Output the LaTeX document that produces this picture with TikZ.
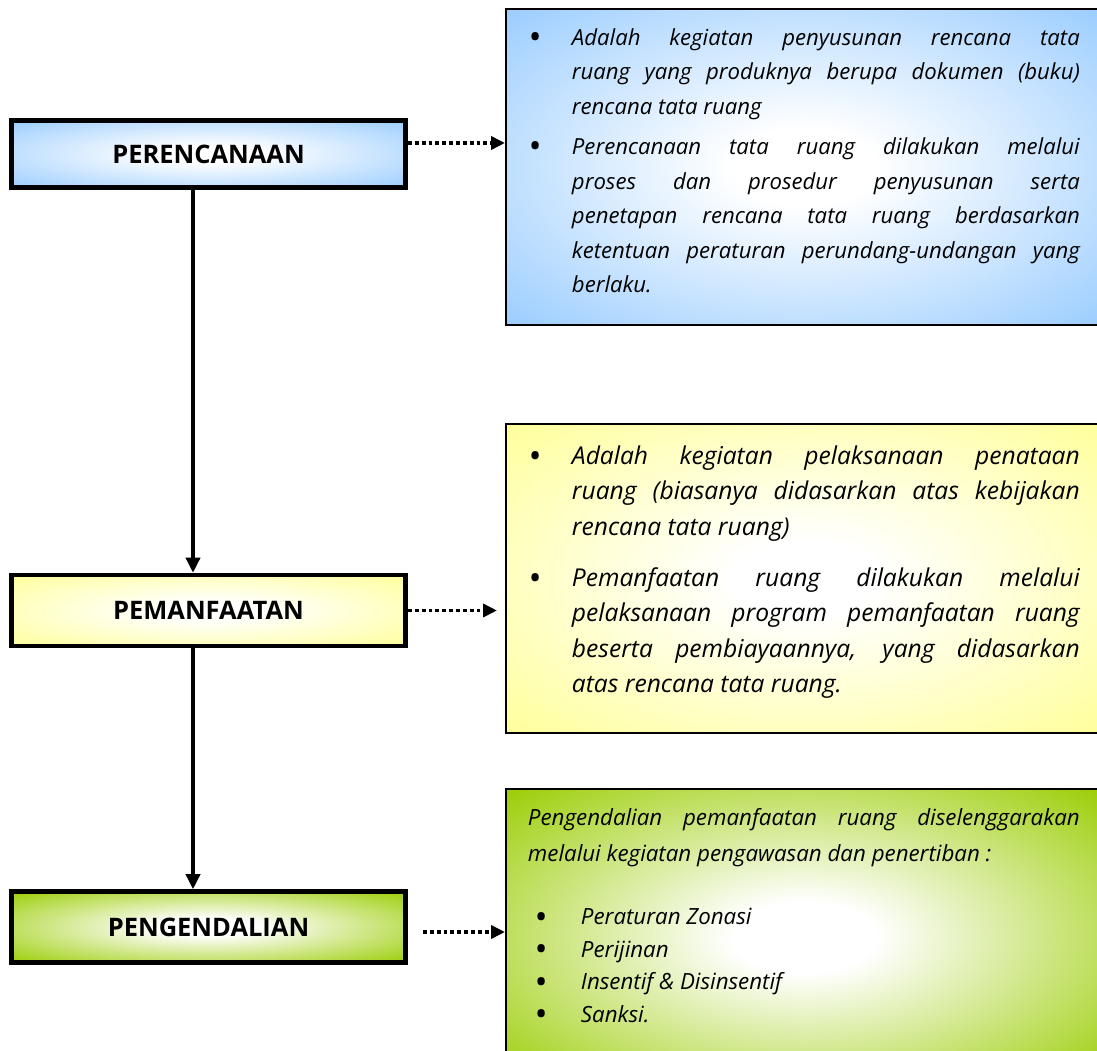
\documentclass[tikz,border=0pt]{standalone}
\usepackage{fontspec}
\setmainfont{Open Sans}
\usetikzlibrary{positioning,arrows.meta,calc}

\definecolor{planblue}{RGB}{153,204,255}
\definecolor{useyellow}{RGB}{255,255,153}
\definecolor{ctrlgreen}{RGB}{153,204,0}

% white centre fading out to the edge colour
\colorlet{glowedge}{white}
\pgfdeclareradialshading[glowedge]{boxglow}{\pgfpoint{0bp}{0bp}}{%
  color(0bp)=(white); color(6bp)=(white); color(36bp)=(glowedge); color(50bp)=(glowedge)}

\hyphenpenalty=10000
\exhyphenpenalty=10000

% (indent, bullet offset, text)
\newcommand{\noteitem}[3]{\par\noindent\hangindent=#1\hangafter=0
  \llap{\makebox[#1][l]{\hspace{#2}{\fontsize{20}{0}\selectfont\raisebox{-0.12em}{\textbullet}}}}#3\par}

\begin{document}
\begin{tikzpicture}[x=0.02cm, y=-0.02cm,
  glow/.style={/utils/exec={\colorlet{glowedge}{#1}}, shade, shading=boxglow},
  stage/.style={draw, line width=2.6pt, minimum width=7.89cm,
    minimum height=1.42cm, inner sep=0pt,
    font=\fontsize{14.5}{17}\selectfont\bfseries},
  note/.style={draw, line width=1.1pt, anchor=north west,
    text width=11.04cm, inner xsep=0.44cm, align=justify},
  flow/.style={line width=2pt, -{Triangle[length=0.3cm, width=0.28cm]}},
  hint/.style={line width=2pt, dash pattern=on 2.2pt off 1.7pt,
    -{Triangle[length=0.28cm, width=0.26cm]}}]
  \useasboundingbox (0,0) rectangle (1097,1050);
  \clip (0,0) rectangle (1097,1050);

  %----- helper rows -----
  \coordinate (spine) at (193,0);
  \coordinate (rowA) at (0,143);
  \coordinate (rowC) at (0,932);

  %----- stages -----
  \node[stage, glow=planblue, minimum height=1.35cm] (plan) at (208.5,154) {PERENCANAAN};
  \node[stage, glow=useyellow] (use) at (208.5,610.5) {PEMANFAATAN};
  \node[stage, glow=ctrlgreen] (ctrl) at (208.5,927) {PENGENDALIAN};

  %----- notes -----
  \node[note, glow=planblue, inner ysep=0.04cm,
    font=\fontsize{12.6}{19.6}\selectfont\itshape] (infoA) at (505,8) {%
    \noteitem{0.88cm}{0pt}{Adalah kegiatan penyusunan rencana tata \linebreak
      ruang yang produknya berupa dokumen (buku) \linebreak rencana tata ruang}
    \vspace{0.12cm}
    \noteitem{0.88cm}{0pt}{Perencanaan tata ruang dilakukan melalui \linebreak
      proses dan prosedur penyusunan serta \linebreak
      penetapan rencana tata ruang berdasarkan \linebreak
      ketentuan peraturan perundang-undangan yang \linebreak berlaku.}
    \kern0.6cm};
  \node[note, glow=useyellow, inner ysep=0.1cm,
    font=\fontsize{14}{20.2}\selectfont\itshape] (infoB) at (505,423) {%
    \noteitem{0.88cm}{0pt}{Adalah kegiatan pelaksanaan penataan \linebreak
      ruang (biasanya didasarkan atas kebijakan \linebreak rencana tata ruang)}
    \vspace{0.31cm}
    \noteitem{0.88cm}{0pt}{Pemanfaatan ruang dilakukan melalui \linebreak
      pelaksanaan program pemanfaatan ruang \linebreak
      beserta pembiayaannya, yang didasarkan \linebreak atas rencana tata ruang.}
    \kern0.58cm};
  \node[note, glow=ctrlgreen, inner ysep=0.38cm,
    font=\fontsize{12.7}{18.5}\selectfont\itshape] (infoC) at (505,788) {%
    {\fontsize{12.7}{21}\selectfont Pengendalian pemanfaatan ruang diselenggarakan \linebreak
      melalui kegiatan pengawasan dan penertiban~:\par}
    \vspace{0.61cm}
    \noteitem{1.06cm}{0.12cm}{Peraturan Zonasi}
    \noteitem{1.06cm}{0.12cm}{Perijinan}
    \noteitem{1.06cm}{0.12cm}{Insentif \& Disinsentif}
    \noteitem{1.06cm}{0.12cm}{Sanksi.}
    \kern0.8cm};

  %----- connectors -----
  \draw[flow] (plan.south -| spine) -- (use.north -| spine);
  \draw[flow] (use.south -| spine) -- (ctrl.north -| spine);
  \draw[hint] (plan.east |- rowA) -- (infoA.west |- rowA);
  \draw[hint, shorten >=0.16cm] (use.east) -- (infoB.west |- use.east);
  \draw[hint, shorten <=0.3cm] (ctrl.east |- rowC) -- (infoC.west |- rowC);
\end{tikzpicture}
\end{document}
